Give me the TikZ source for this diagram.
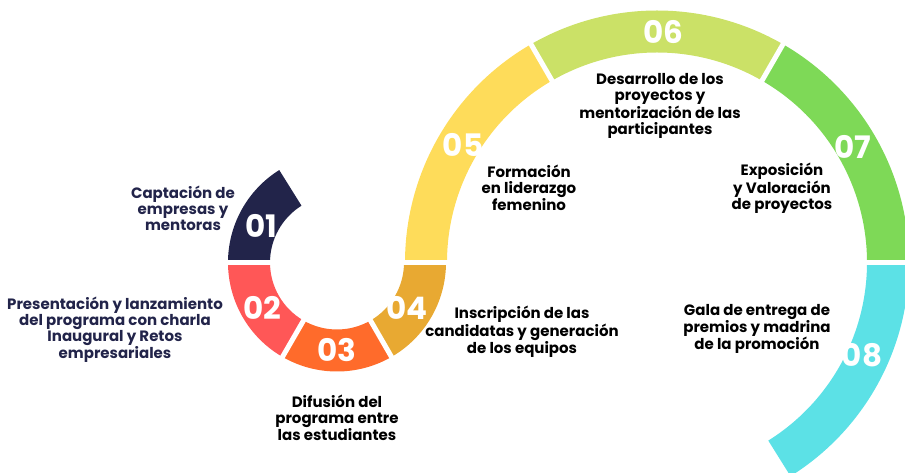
\documentclass[tikz,border=0pt]{standalone}
\usepackage{fontspec}
\setmainfont{Poppins}
\definecolor{cnavy}{HTML}{22244A}
\definecolor{cred}{HTML}{FF5757}
\definecolor{corange}{HTML}{FF6B2B}
\definecolor{camber}{HTML}{E8A932}
\definecolor{cyellow}{HTML}{FEDC5A}
\definecolor{clgreen}{HTML}{CBE167}
\definecolor{cgreen}{HTML}{7ED957}
\definecolor{ccyan}{HTML}{5CE1E6}
\begin{document}
\begin{tikzpicture}[x=1pt,y=1pt,
  num/.style={text=white,font=\fontsize{31}{31}\selectfont\bfseries,inner sep=0pt},
  lbl/.style={align=center,font=\fontsize{15}{16}\selectfont\bfseries,inner sep=0pt,text=black},
  navylbl/.style={lbl,text=cnavy},
  gapline/.style={white,line width=5pt}]
\useasboundingbox (0,0) rectangle (905,473);
\clip (0,0) rectangle (905,473);
% small ring
\begin{scope}[shift={(337,210.5)}]
  \fill[cnavy] (122:109pt) arc[start angle=122,end angle=180,radius=109pt] -- (180:67pt) arc[start angle=180,end angle=122,radius=67pt] -- cycle;
  \fill[cred] (180:109pt) arc[start angle=180,end angle=240,radius=109pt] -- (240:67pt) arc[start angle=240,end angle=180,radius=67pt] -- cycle;
  \fill[corange] (240:109pt) arc[start angle=240,end angle=300,radius=109pt] -- (300:67pt) arc[start angle=300,end angle=240,radius=67pt] -- cycle;
  \fill[camber] (300:109pt) arc[start angle=300,end angle=360,radius=109pt] -- (0:67pt) arc[start angle=360,end angle=300,radius=67pt] -- cycle;
  \draw[gapline] (180:60pt) -- (180:115pt);
  \draw[gapline] (240:60pt) -- (240:115pt);
  \draw[gapline] (300:60pt) -- (300:115pt);
\end{scope}
% big arc
\begin{scope}[shift={(657,210.5)}]
  \fill[cyellow] (120:252pt) arc[start angle=120,end angle=180,radius=252pt] -- (180:210pt) arc[start angle=180,end angle=120,radius=210pt] -- cycle;
  \fill[clgreen] (60:252pt) arc[start angle=60,end angle=120,radius=252pt] -- (120:210pt) arc[start angle=120,end angle=60,radius=210pt] -- cycle;
  \fill[cgreen] (0:252pt) arc[start angle=0,end angle=60,radius=252pt] -- (60:210pt) arc[start angle=60,end angle=0,radius=210pt] -- cycle;
  \fill[ccyan] (-58:252pt) arc[start angle=-58,end angle=0,radius=252pt] -- (0:210pt) arc[start angle=0,end angle=-58,radius=210pt] -- cycle;
  \draw[gapline] (120:200pt) -- (120:260pt);
  \draw[gapline] (60:200pt) -- (60:260pt);
  \draw[gapline] (0:200pt) -- (0:260pt);
  \draw[gapline] (180:200pt) -- (180:260pt);
\end{scope}
% numbers
\node[num] (n01) at (261,247) {01};
\node[num] (n02) at (262,165) {02};
\node[num] (n03) at (337,123) {03};
\node[num] (n04) at (407,165) {04};
\node[num] (n05) at (463,328) {05};
\node[num] (n06) at (663,441) {06};
\node[num] (n07) at (853,326) {07};
\node[num] (n08) at (862,118) {08};
% labels
\node[navylbl] (l01) at (183,265) {Captación de\\empresas y\\mentoras};
\node[navylbl] (l02) at (115,143) {Presentación y lanzamiento\\del programa con charla\\Inaugural y Retos\\empresariales};
\node[lbl] (l03) at (337,55) {Difusión del\\programa entre\\las estudiantes};
\node[lbl] (l04) at (522,141) {Inscripción de las\\candidatas y generación\\de los equipos};
\node[lbl] (l05) at (529,285) {Formación\\en liderazgo\\femenino};
\node[lbl] (l06) at (660,367) {Desarrollo de los\\proyectos y\\mentorización de las\\participantes};
\node[lbl] (l07) at (782,285) {Exposición\\y Valoración\\de proyectos};
\node[lbl] (l08) at (757,144) {Gala de entrega de\\premios y madrina\\de la promoción};
\end{tikzpicture}
\end{document}
